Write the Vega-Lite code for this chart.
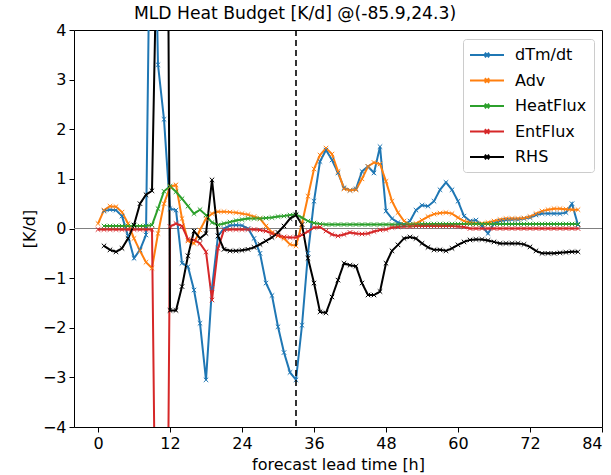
{
  "$schema": "https://vega.github.io/schema/vega-lite/v6.json",
  "width": 528,
  "height": 397,
  "autosize": "none",
  "padding": {"left": 74, "top": 30, "right": 9, "bottom": 48},
  "config": {
    "font": "DejaVu Sans",
    "view": {"stroke": "black", "strokeWidth": 1},
    "axis": {"grid": false, "domain": false, "tickColor": "black", "tickSize": 5, "tickWidth": 1, "labelColor": "black", "labelFontSize": 16, "labelPadding": 3, "titleFontSize": 16, "titleFontWeight": "normal", "titleColor": "black"}
  },
  "title": {"text": "MLD Heat Budget [K/d] @(-85.9,24.3)", "fontSize": 17.2, "fontWeight": "normal", "color": "black", "offset": 0, "dx": -43},
  "datasets": {
    "budget": [
      {"h":1,"dTm/dt":0.35,"Adv":0.37,"HeatFlux":0.05,"EntFlux":-0.02,"RHS":-0.35},
      {"h":0,"dTm/dt":null,"Adv":0.1,"HeatFlux":null,"EntFlux":-0.02,"RHS":null},
      {"h":2,"dTm/dt":0.38,"Adv":0.45,"HeatFlux":0.05,"EntFlux":-0.02,"RHS":-0.43},
      {"h":3,"dTm/dt":0.37,"Adv":0.44,"HeatFlux":0.05,"EntFlux":-0.02,"RHS":-0.47},
      {"h":4,"dTm/dt":0.25,"Adv":0.33,"HeatFlux":0.05,"EntFlux":-0.02,"RHS":-0.4},
      {"h":5,"dTm/dt":-0.15,"Adv":0.1,"HeatFlux":0.05,"EntFlux":-0.02,"RHS":-0.2},
      {"h":6,"dTm/dt":-0.6,"Adv":-0.2,"HeatFlux":0.05,"EntFlux":-0.02,"RHS":0.07},
      {"h":7,"dTm/dt":-0.43,"Adv":-0.45,"HeatFlux":0.05,"EntFlux":-0.02,"RHS":0.5},
      {"h":8,"dTm/dt":-0.13,"Adv":-0.68,"HeatFlux":0.05,"EntFlux":-0.02,"RHS":0.68},
      {"h":9,"dTm/dt":9.5,"Adv":-0.8,"HeatFlux":0.07,"EntFlux":-0.02,"RHS":0.76},
      {"h":10,"dTm/dt":3.3,"Adv":-0.1,"HeatFlux":0.4,"EntFlux":-11,"RHS":7},
      {"h":11,"dTm/dt":2.2,"Adv":0.5,"HeatFlux":0.75,"EntFlux":-16,"RHS":21},
      {"h":12,"dTm/dt":0.4,"Adv":0.84,"HeatFlux":0.85,"EntFlux":0.04,"RHS":-1.65},
      {"h":13,"dTm/dt":0.37,"Adv":0.88,"HeatFlux":0.74,"EntFlux":0.1,"RHS":-1.65},
      {"h":14,"dTm/dt":-0.7,"Adv":0.2,"HeatFlux":0.6,"EntFlux":0.05,"RHS":-1.17},
      {"h":15,"dTm/dt":-0.77,"Adv":-0.25,"HeatFlux":0.45,"EntFlux":-0.22,"RHS":-0.55},
      {"h":16,"dTm/dt":-1.24,"Adv":-0.3,"HeatFlux":0.3,"EntFlux":-0.23,"RHS":-0.05},
      {"h":17,"dTm/dt":-1.91,"Adv":-0.03,"HeatFlux":0.38,"EntFlux":-0.3,"RHS":-0.2},
      {"h":18,"dTm/dt":-3.05,"Adv":0.2,"HeatFlux":0.27,"EntFlux":-0.47,"RHS":-0.1},
      {"h":19,"dTm/dt":-1.2,"Adv":0.3,"HeatFlux":0.12,"EntFlux":-1.44,"RHS":0.98},
      {"h":20,"dTm/dt":-0.15,"Adv":0.34,"HeatFlux":0.07,"EntFlux":-0.4,"RHS":-0.15},
      {"h":21,"dTm/dt":0.0,"Adv":0.34,"HeatFlux":0.1,"EntFlux":-0.03,"RHS":-0.42},
      {"h":22,"dTm/dt":0.06,"Adv":0.33,"HeatFlux":0.13,"EntFlux":-0.02,"RHS":-0.45},
      {"h":23,"dTm/dt":0.07,"Adv":0.32,"HeatFlux":0.16,"EntFlux":-0.02,"RHS":-0.45},
      {"h":24,"dTm/dt":0.06,"Adv":0.3,"HeatFlux":0.18,"EntFlux":-0.02,"RHS":-0.44},
      {"h":25,"dTm/dt":0.0,"Adv":0.28,"HeatFlux":0.2,"EntFlux":-0.02,"RHS":-0.42},
      {"h":26,"dTm/dt":-0.2,"Adv":0.24,"HeatFlux":0.2,"EntFlux":-0.02,"RHS":-0.38},
      {"h":27,"dTm/dt":-0.5,"Adv":0.2,"HeatFlux":0.2,"EntFlux":-0.03,"RHS":-0.32},
      {"h":28,"dTm/dt":-1.1,"Adv":0.05,"HeatFlux":0.21,"EntFlux":-0.05,"RHS":-0.25},
      {"h":29,"dTm/dt":-1.35,"Adv":-0.08,"HeatFlux":0.22,"EntFlux":-0.1,"RHS":-0.18},
      {"h":30,"dTm/dt":-1.98,"Adv":-0.15,"HeatFlux":0.24,"EntFlux":-0.14,"RHS":-0.08},
      {"h":31,"dTm/dt":-2.5,"Adv":-0.2,"HeatFlux":0.25,"EntFlux":-0.17,"RHS":0.05},
      {"h":32,"dTm/dt":-2.9,"Adv":-0.32,"HeatFlux":0.27,"EntFlux":-0.18,"RHS":0.2},
      {"h":33,"dTm/dt":-3.05,"Adv":-0.35,"HeatFlux":0.28,"EntFlux":-0.18,"RHS":0.27},
      {"h":34,"dTm/dt":-1.95,"Adv":0.1,"HeatFlux":0.22,"EntFlux":-0.13,"RHS":0.08},
      {"h":35,"dTm/dt":-0.5,"Adv":0.65,"HeatFlux":0.15,"EntFlux":-0.06,"RHS":-0.6},
      {"h":36,"dTm/dt":0.55,"Adv":1.2,"HeatFlux":0.11,"EntFlux":0.02,"RHS":-1.1},
      {"h":37,"dTm/dt":1.35,"Adv":1.48,"HeatFlux":0.09,"EntFlux":0.03,"RHS":-1.68},
      {"h":38,"dTm/dt":1.58,"Adv":1.62,"HeatFlux":0.08,"EntFlux":-0.05,"RHS":-1.7},
      {"h":39,"dTm/dt":1.38,"Adv":1.5,"HeatFlux":0.08,"EntFlux":-0.12,"RHS":-1.38},
      {"h":40,"dTm/dt":1.12,"Adv":1.15,"HeatFlux":0.08,"EntFlux":-0.15,"RHS":-1.04},
      {"h":41,"dTm/dt":0.82,"Adv":0.8,"HeatFlux":0.08,"EntFlux":-0.12,"RHS":-0.7},
      {"h":42,"dTm/dt":0.77,"Adv":0.77,"HeatFlux":0.08,"EntFlux":-0.08,"RHS":-0.74},
      {"h":43,"dTm/dt":0.8,"Adv":0.78,"HeatFlux":0.08,"EntFlux":-0.1,"RHS":-0.76},
      {"h":44,"dTm/dt":1.15,"Adv":1.0,"HeatFlux":0.08,"EntFlux":-0.11,"RHS":-1.1},
      {"h":45,"dTm/dt":1.25,"Adv":1.25,"HeatFlux":0.08,"EntFlux":-0.1,"RHS":-1.34},
      {"h":46,"dTm/dt":1.12,"Adv":1.33,"HeatFlux":0.08,"EntFlux":-0.06,"RHS":-1.34},
      {"h":47,"dTm/dt":1.65,"Adv":1.3,"HeatFlux":0.08,"EntFlux":-0.03,"RHS":-1.27},
      {"h":48,"dTm/dt":0.35,"Adv":0.95,"HeatFlux":0.08,"EntFlux":-0.02,"RHS":-0.7},
      {"h":49,"dTm/dt":0.2,"Adv":0.55,"HeatFlux":0.08,"EntFlux":0.02,"RHS":-0.45},
      {"h":50,"dTm/dt":0.12,"Adv":0.32,"HeatFlux":0.08,"EntFlux":0.03,"RHS":-0.33},
      {"h":51,"dTm/dt":0.08,"Adv":0.15,"HeatFlux":0.08,"EntFlux":0.04,"RHS":-0.2},
      {"h":52,"dTm/dt":0.15,"Adv":0.08,"HeatFlux":0.08,"EntFlux":0.04,"RHS":-0.17},
      {"h":53,"dTm/dt":0.37,"Adv":0.1,"HeatFlux":0.08,"EntFlux":0.05,"RHS":-0.2},
      {"h":54,"dTm/dt":0.47,"Adv":0.17,"HeatFlux":0.09,"EntFlux":0.05,"RHS":-0.3},
      {"h":55,"dTm/dt":0.45,"Adv":0.24,"HeatFlux":0.09,"EntFlux":0.05,"RHS":-0.38},
      {"h":56,"dTm/dt":0.55,"Adv":0.29,"HeatFlux":0.09,"EntFlux":0.05,"RHS":-0.43},
      {"h":57,"dTm/dt":0.78,"Adv":0.31,"HeatFlux":0.09,"EntFlux":0.05,"RHS":-0.43},
      {"h":58,"dTm/dt":0.93,"Adv":0.32,"HeatFlux":0.09,"EntFlux":0.05,"RHS":-0.45},
      {"h":59,"dTm/dt":0.78,"Adv":0.3,"HeatFlux":0.09,"EntFlux":0.05,"RHS":-0.4},
      {"h":60,"dTm/dt":0.55,"Adv":0.22,"HeatFlux":0.09,"EntFlux":0.04,"RHS":-0.33},
      {"h":61,"dTm/dt":0.25,"Adv":0.15,"HeatFlux":0.09,"EntFlux":0.03,"RHS":-0.27},
      {"h":62,"dTm/dt":0.15,"Adv":0.12,"HeatFlux":0.09,"EntFlux":0.0,"RHS":-0.23},
      {"h":63,"dTm/dt":0.17,"Adv":0.1,"HeatFlux":0.09,"EntFlux":0.0,"RHS":-0.22},
      {"h":64,"dTm/dt":0.05,"Adv":0.1,"HeatFlux":0.09,"EntFlux":0.0,"RHS":-0.22},
      {"h":65,"dTm/dt":-0.1,"Adv":0.12,"HeatFlux":0.09,"EntFlux":0.0,"RHS":-0.24},
      {"h":66,"dTm/dt":0.1,"Adv":0.15,"HeatFlux":0.09,"EntFlux":0.0,"RHS":-0.27},
      {"h":67,"dTm/dt":0.15,"Adv":0.18,"HeatFlux":0.09,"EntFlux":0.0,"RHS":-0.3},
      {"h":68,"dTm/dt":0.17,"Adv":0.2,"HeatFlux":0.09,"EntFlux":0.0,"RHS":-0.3},
      {"h":69,"dTm/dt":0.18,"Adv":0.2,"HeatFlux":0.09,"EntFlux":0.0,"RHS":-0.3},
      {"h":70,"dTm/dt":0.18,"Adv":0.2,"HeatFlux":0.09,"EntFlux":0.0,"RHS":-0.3},
      {"h":71,"dTm/dt":0.2,"Adv":0.21,"HeatFlux":0.09,"EntFlux":0.0,"RHS":-0.32},
      {"h":72,"dTm/dt":0.22,"Adv":0.24,"HeatFlux":0.09,"EntFlux":0.0,"RHS":-0.37},
      {"h":73,"dTm/dt":0.27,"Adv":0.3,"HeatFlux":0.09,"EntFlux":0.0,"RHS":-0.45},
      {"h":74,"dTm/dt":0.3,"Adv":0.35,"HeatFlux":0.09,"EntFlux":0.0,"RHS":-0.5},
      {"h":75,"dTm/dt":0.3,"Adv":0.38,"HeatFlux":0.09,"EntFlux":0.0,"RHS":-0.5},
      {"h":76,"dTm/dt":0.3,"Adv":0.4,"HeatFlux":0.09,"EntFlux":0.0,"RHS":-0.5},
      {"h":77,"dTm/dt":0.3,"Adv":0.4,"HeatFlux":0.09,"EntFlux":0.0,"RHS":-0.49},
      {"h":78,"dTm/dt":0.32,"Adv":0.39,"HeatFlux":0.09,"EntFlux":0.0,"RHS":-0.48},
      {"h":79,"dTm/dt":0.5,"Adv":0.38,"HeatFlux":0.09,"EntFlux":0.0,"RHS":-0.47},
      {"h":80,"dTm/dt":0.07,"Adv":0.38,"HeatFlux":0.09,"EntFlux":0.0,"RHS":-0.47}
    ]
  },
  "layer": [
    {
      "data": {"values": [{"zero": 0}]},
      "mark": {"type": "rule", "color": "#808080", "strokeWidth": 1},
      "encoding": {"y": {"field": "zero", "type": "quantitative", "scale": {"domain": [-4, 4], "nice": false}}}
    },
    {
      "data": {"name": "budget"},
      "transform": [{"fold": ["dTm/dt", "Adv", "HeatFlux", "EntFlux", "RHS"], "as": ["s", "v"]}],
      "encoding": {
        "x": {"field": "h", "type": "quantitative", "scale": {"domain": [-4, 84], "nice": false, "zero": false}, "axis": {"values": [0, 12, 24, 36, 48, 60, 72, 84], "title": "forecast lead time [h]", "titlePadding": 5}},
        "y": {"field": "v", "type": "quantitative", "scale": {"domain": [-4, 4], "nice": false}, "axis": {"values": [-4, -3, -2, -1, 0, 1, 2, 3, 4], "title": "[K/d]", "titlePadding": 5}},
        "color": {
          "field": "s", "type": "nominal",
          "scale": {"domain": ["dTm/dt", "Adv", "HeatFlux", "EntFlux", "RHS"], "range": ["#1f77b4", "#ff7f0e", "#2ca02c", "#d62728", "#000000"]},
          "legend": {"orient": "none", "legendX": 389, "legendY": 9, "title": null, "symbolType": "M-2.125,0L2.125,0M-0.275,-0.275L0.275,0.275M-0.275,0.275L0.275,-0.275", "symbolSize": 256, "symbolStrokeWidth": 2, "labelFontSize": 16, "labelColor": "black", "labelOffset": 19, "rowPadding": 8.5, "padding": 7, "symbolOffset": 8, "strokeColor": "#cccccc", "cornerRadius": 3, "fillColor": "white"}
        }
      },
      "layer": [
        {"mark": {"type": "line", "clip": true, "strokeWidth": 2}},
        {"mark": {"type": "point", "clip": true, "shape": "M-1,-1L1,1M-1,1L1,-1", "filled": false, "size": 20, "strokeWidth": 1, "opacity": 1}}
      ]
    },
    {
      "data": {"values": [{"lead": 33}]},
      "mark": {"type": "rule", "color": "black", "strokeWidth": 1.6, "strokeDash": [6, 4]},
      "encoding": {"x": {"field": "lead", "type": "quantitative"}}
    }
  ]
}
